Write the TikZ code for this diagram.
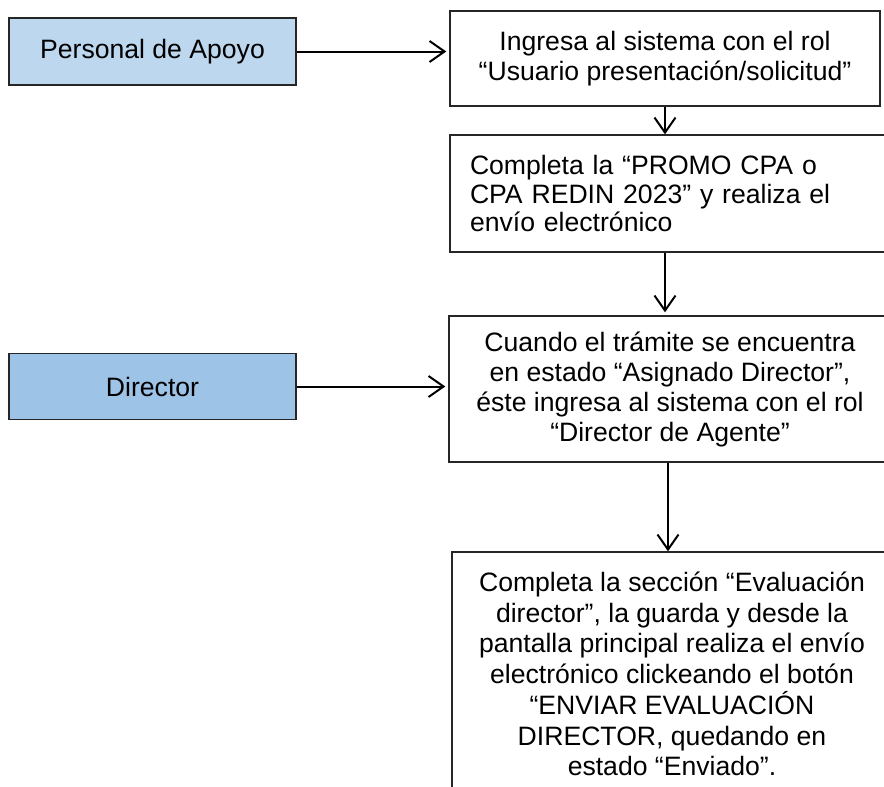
\documentclass[tikz,border=0pt]{standalone}
\usepackage{fontspec}
\setmainfont{Liberation Sans}
\usetikzlibrary{arrows.meta}
\definecolor{roleA}{HTML}{BDD7EE}
\definecolor{roleB}{HTML}{9DC3E6}
\tikzset{
  rolebox/.style={draw=black!85, line width=1.6pt, minimum width=287pt, inner sep=0pt,
    font=\fontsize{26.6}{30}\selectfont},
  stepbox/.style={draw=black!85, line width=1.4pt, fill=white, inner sep=0pt, align=center,
    font=\fontsize{26.6}{30}\selectfont},
  arr/.style={line width=2pt, -{Straight Barb[length=15pt,width=21pt,line width=2pt]}}
}
\begin{document}
\begin{tikzpicture}[x=1pt,y=-1pt]
\useasboundingbox (0,0) rectangle (884,787);
\node[rolebox, fill=roleA, minimum height=67pt] (p) at (152.5,51.5) {Personal de Apoyo};
\node[rolebox, fill=roleB, minimum height=66pt] (d) at (152.5,386.5) {Director};
\node[stepbox, minimum width=430pt, minimum height=95pt] (a) at (665,58.5)
  {Ingresa al sistema con el rol\\“Usuario presentación/solicitud”};
\node[stepbox, align=left, text width=400pt, inner xsep=20pt, minimum height=117pt,
  font=\fontsize{26.6}{28.7}\selectfont] (b) at (670,193.5)
  {Completa la “PROMO CPA o\\CPA REDIN 2023” y realiza el\\envío electrónico};
\node[stepbox, minimum width=442pt, minimum height=146pt] (c) at (670,389)
  {Cuando el trámite se encuentra\\en estado “Asignado Director”,\\éste ingresa al sistema con el rol\\“Director de Agente”};
\node[stepbox, minimum width=440pt, minimum height=244pt,
  font=\fontsize{26.6}{30.7}\selectfont] (e) at (672,674)
  {Completa la sección “Evaluación\\director”, la guarda y desde la\\pantalla principal realiza el envío\\electrónico clickeando el botón\\“ENVIAR EVALUACIÓN\\DIRECTOR, quedando en\\estado “Enviado”.};
\coordinate (ce) at (668,0);
\draw[arr, shorten >=3pt] (p.east) -- (p.east -| a.west);
\draw[arr] (a.south) -- (a.south |- b.north);
\draw[arr, shorten >=3pt] (a.south |- b.south) -- (a.south |- c.north);
\draw[arr] (ce |- c.south) -- (ce |- e.north);
\draw[arr, shorten >=3pt] (d.east) -- (d.east -| c.west);
\end{tikzpicture}
\end{document}
